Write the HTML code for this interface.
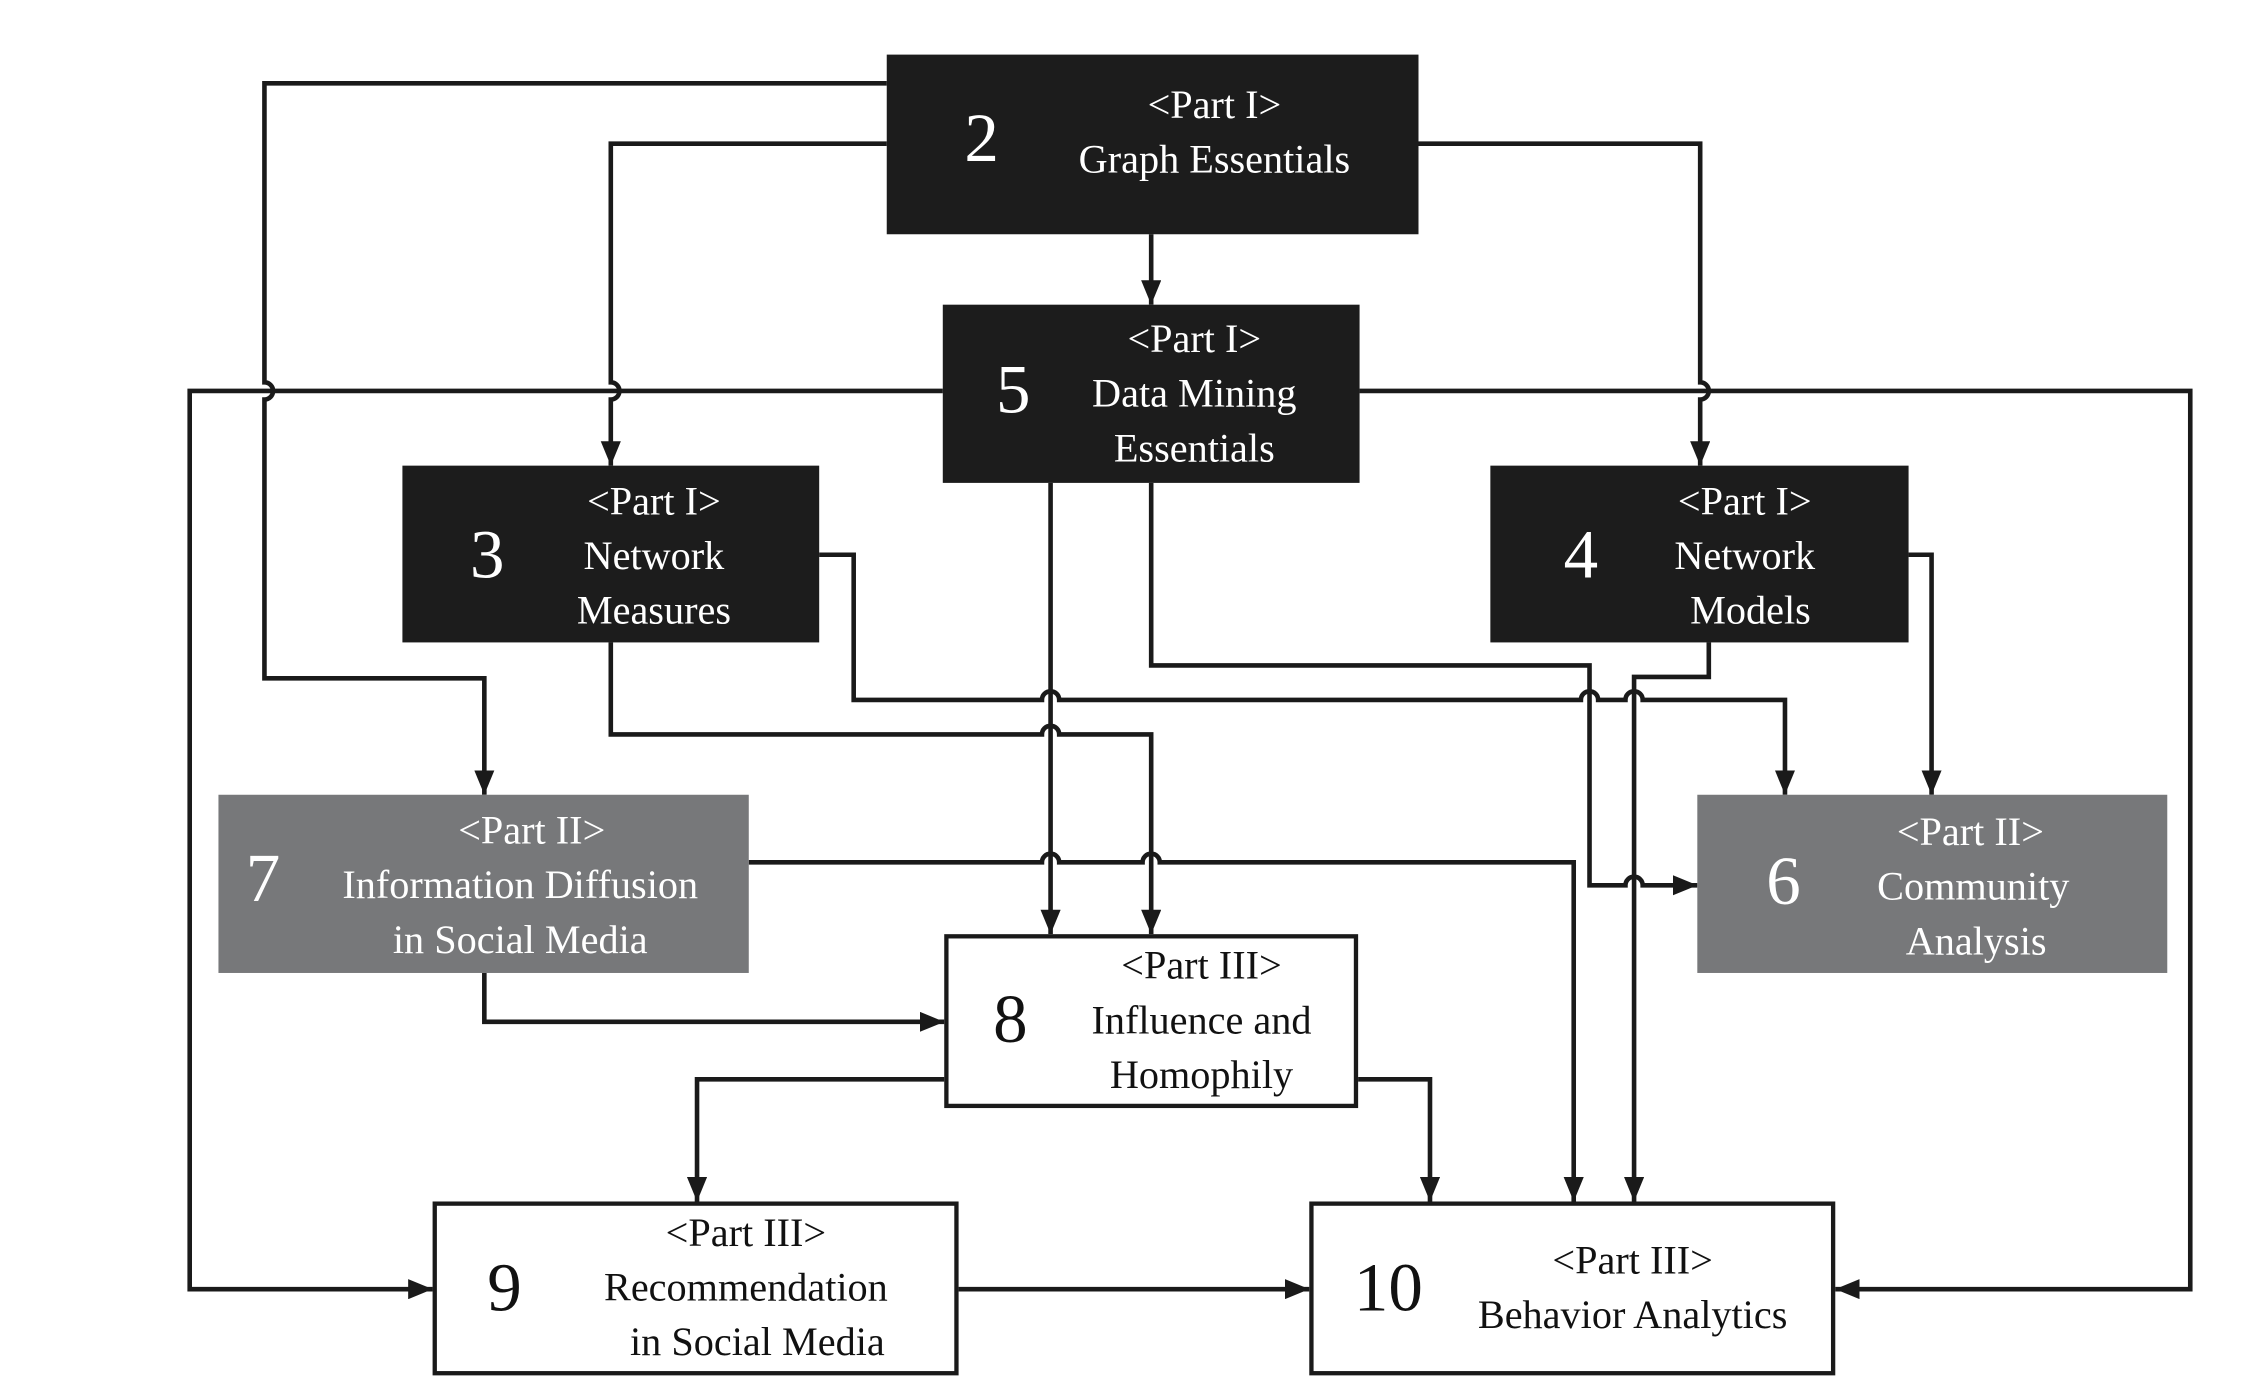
<!DOCTYPE html>
<html><head><meta charset="utf-8"><style>
html,body{margin:0;padding:0;background:#fff;width:2242px;height:1384px;overflow:hidden}
svg{display:block}
text{font-family:"Liberation Serif",serif}
</style></head><body>
<svg width="2242" height="1384" viewBox="0 0 1560 963" preserveAspectRatio="none" xmlns="http://www.w3.org/2000/svg">
<defs>
<marker id="a" markerUnits="userSpaceOnUse" markerWidth="18" markerHeight="14" refX="17" refY="7" orient="auto">
<path d="M0,0 L17,7 L0,14 Z" fill="#1a1a1a"/>
</marker>
</defs>
<g fill="none" stroke="#1a1a1a" stroke-width="3.2" stroke-linejoin="miter">
<path d="M617,58 H184 V266 A6,6 0 0 1 184,278 V472 H337 V553" marker-end="url(#a)"/>
<path d="M617,100 H425 V266 A6,6 0 0 1 425,278 V324" marker-end="url(#a)"/>
<path d="M987,100 H1183 V266 A6,6 0 0 1 1183,278 V324" marker-end="url(#a)"/>
<path d="M801,163 V212" marker-end="url(#a)"/>
<path d="M656,272 H132 V897 H301" marker-end="url(#a)"/>
<path d="M946,272 H1524 V897 H1277" marker-end="url(#a)"/>
<path d="M731,336 V650" marker-end="url(#a)"/>
<path d="M801,336 V463 H1106 V616 H1131 A6,6 0 0 1 1143,616 H1181" marker-end="url(#a)"/>
<path d="M570,386 H594 V487 H725 A6,6 0 0 1 737,487 H1100 A6,6 0 0 1 1112,487 H1131 A6,6 0 0 1 1143,487 H1242 V553" marker-end="url(#a)"/>
<path d="M425,447 V511 H725 A6,6 0 0 1 737,511 H801 V650" marker-end="url(#a)"/>
<path d="M1328,386 H1344 V553" marker-end="url(#a)"/>
<path d="M1189,447 V471 H1137 V836" marker-end="url(#a)"/>
<path d="M521,600 H725 A6,6 0 0 1 737,600 H795 A6,6 0 0 1 807,600 H1095 V836" marker-end="url(#a)"/>
<path d="M337,677 V711 H657" marker-end="url(#a)"/>
<path d="M657,751 H485 V836" marker-end="url(#a)"/>
<path d="M945,751 H995 V836" marker-end="url(#a)"/>
<path d="M667,897 H911" marker-end="url(#a)"/>
</g>
<!-- boxes -->
<rect x="617" y="38" width="370" height="125" fill="#1c1c1c"/>
<rect x="656" y="212" width="290" height="124" fill="#1c1c1c"/>
<rect x="280" y="324" width="290" height="123" fill="#1c1c1c"/>
<rect x="1037" y="324" width="291" height="123" fill="#1c1c1c"/>
<rect x="152" y="553" width="369" height="124" fill="#77787a"/>
<rect x="1181" y="553" width="327" height="124" fill="#77787a"/>
<rect x="658.5" y="651.5" width="285" height="118" fill="#fff" stroke="#1a1a1a" stroke-width="3"/>
<rect x="302.5" y="837.5" width="363" height="118" fill="#fff" stroke="#1a1a1a" stroke-width="3"/>
<rect x="912.5" y="837.5" width="363" height="118" fill="#fff" stroke="#1a1a1a" stroke-width="3"/>
<g fill="#fff" font-size="28" text-anchor="middle">
<text x="683" y="112" font-size="48">2</text>
<text x="845" y="82">&lt;Part I&gt;</text>
<text x="845" y="120">Graph Essentials</text>
<text x="705" y="287" font-size="48">5</text>
<text x="831" y="245">&lt;Part I&gt;</text>
<text x="831" y="283">Data Mining</text>
<text x="831" y="321">Essentials</text>
<text x="339" y="402" font-size="48">3</text>
<text x="455" y="358">&lt;Part I&gt;</text>
<text x="455" y="396">Network</text>
<text x="455" y="434">Measures</text>
<text x="1100" y="402" font-size="48">4</text>
<text x="1214" y="358">&lt;Part I&gt;</text>
<text x="1214" y="396">Network</text>
<text x="1218" y="434">Models</text>
<text x="183" y="627" font-size="48">7</text>
<text x="370" y="587">&lt;Part II&gt;</text>
<text x="362" y="625">Information Diffusion</text>
<text x="362" y="663">in Social Media</text>
<text x="1241" y="629" font-size="48">6</text>
<text x="1371" y="588">&lt;Part II&gt;</text>
<text x="1373" y="626">Community</text>
<text x="1375" y="664">Analysis</text>
</g>
<g fill="#111" font-size="28" text-anchor="middle">
<text x="703" y="725" font-size="48">8</text>
<text x="836" y="681">&lt;Part III&gt;</text>
<text x="836" y="719">Influence and</text>
<text x="836" y="757">Homophily</text>
<text x="351" y="912" font-size="48">9</text>
<text x="519" y="867">&lt;Part III&gt;</text>
<text x="519" y="905">Recommendation</text>
<text x="527" y="943">in Social Media</text>
<text x="966" y="912" font-size="48">10</text>
<text x="1136" y="886">&lt;Part III&gt;</text>
<text x="1136" y="924">Behavior Analytics</text>
</g>
</svg>
</body></html>
